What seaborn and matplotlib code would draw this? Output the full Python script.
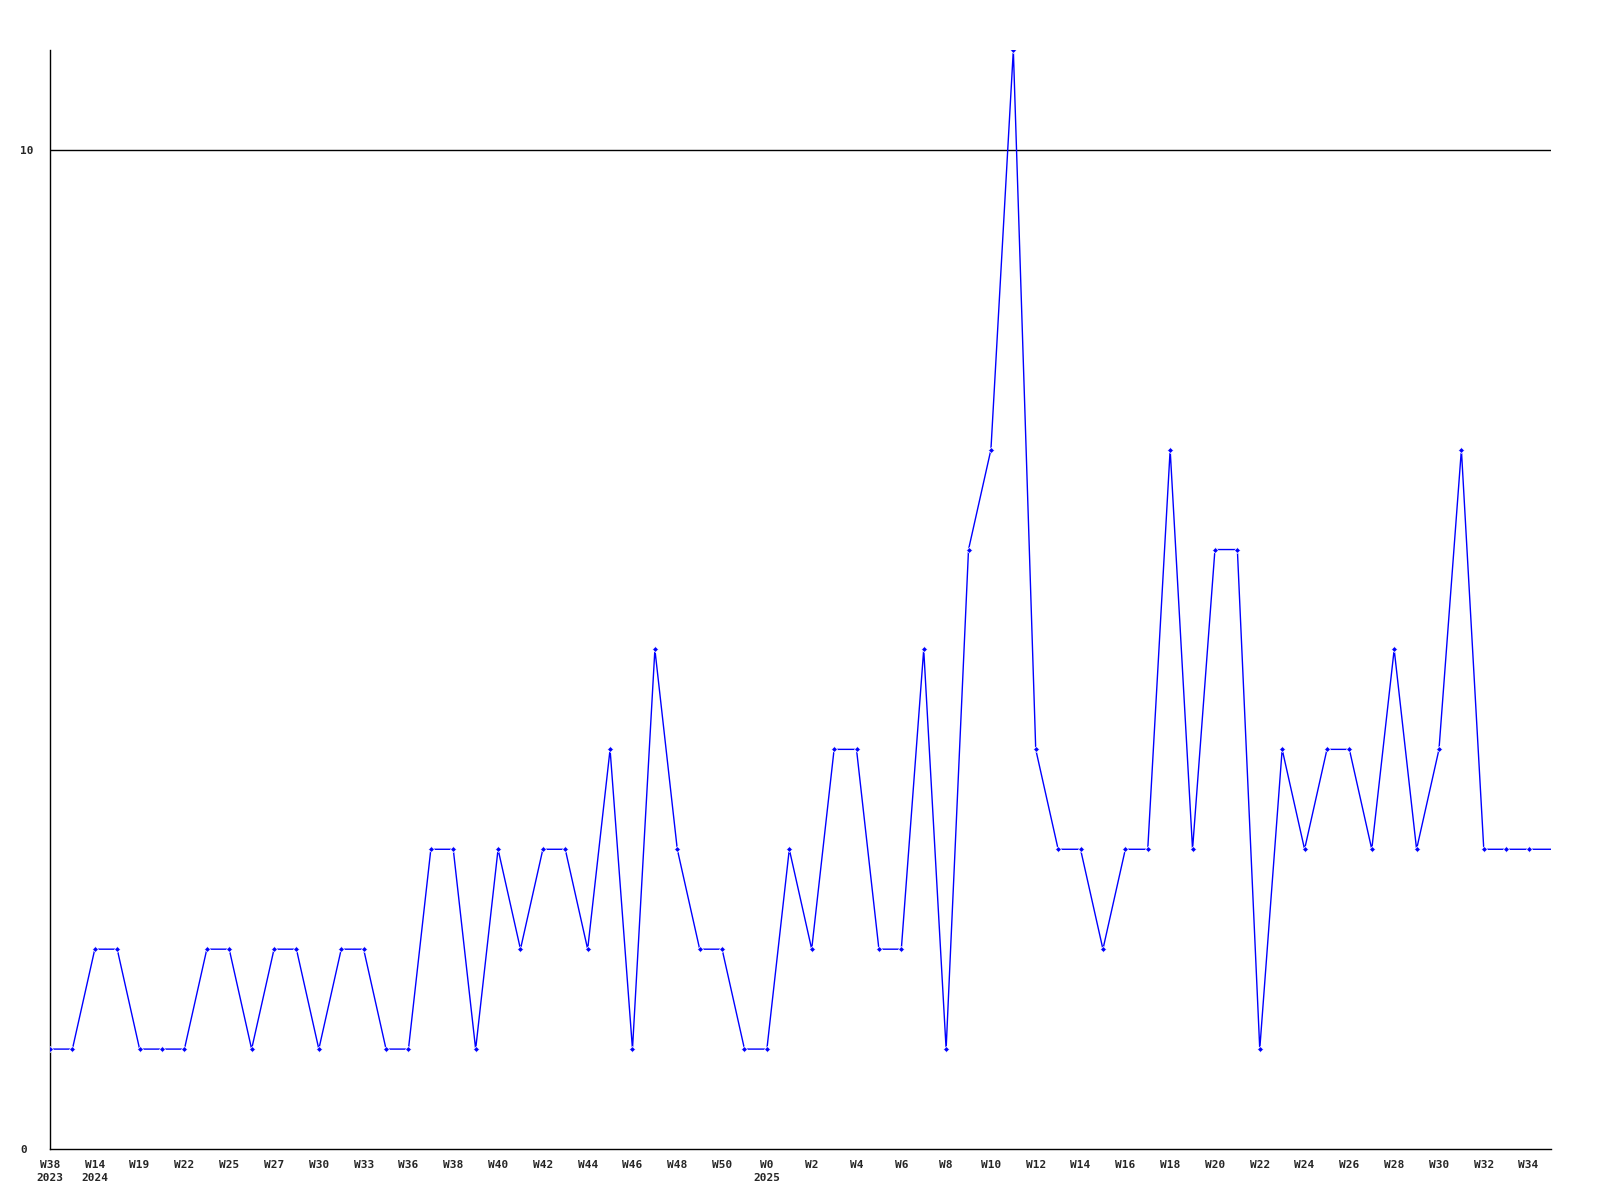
import matplotlib
matplotlib.use("Agg")
import matplotlib.pyplot as plt
import seaborn as sns
import numpy as np

values = [1, 1, 2, 2, 1, 1, 1, 2, 2, 1, 2, 2, 1, 2, 2, 1, 1, 3, 3, 1,
          3, 2, 3, 3, 2, 4, 1, 5, 3, 2, 2, 1, 1, 3, 2, 4, 4, 2, 2, 5,
          1, 6, 7, 11, 4, 3, 3, 2, 3, 3, 7, 3, 6, 6, 1, 4, 3, 4, 4, 3,
          5, 3, 4, 7, 3, 3, 3, 3]
tick_labels = ["W38\n2023", "W14\n2024", "W19", "W22", "W25", "W27", "W30", "W33",
               "W36", "W38", "W40", "W42", "W44", "W46", "W48", "W50", "W0\n2025",
               "W2", "W4", "W6", "W8", "W10", "W12", "W14", "W16", "W18", "W20",
               "W22", "W24", "W26", "W28", "W30", "W32", "W34"]

sns.set_style("white")
plt.rcParams['font.family'] = ['DejaVu Sans Mono', 'DejaVu Sans']

fig = plt.figure(figsize=(16, 12), dpi=100)
ax = fig.add_axes([50/1600, 1 - 1149/1200, 1501/1600, 1099/1200])

x = np.arange(len(values))
ax.axhline(10, color='black', linewidth=1, zorder=1)
sns.lineplot(x=x, y=values, ax=ax, color=(0, 0, 1), linewidth=1,
             marker='D', markersize=3, markeredgewidth=0.5,
             markevery=list(range(len(values) - 1)), zorder=3)

ax.set_xlim(0, len(values) - 1)
ax.set_ylim(0, 11)
ax.set_xticks(x[::2][:len(tick_labels)])
ax.set_xticklabels(tick_labels, fontsize=8, fontweight='bold', va='top', linespacing=1.3)
ax.set_yticks([0, 10])
ax.set_yticklabels(["0", "10"], fontsize=8, fontweight='bold', ha='left')
ax.tick_params(axis='both', length=0)
ax.tick_params(axis='x', pad=8)
ax.tick_params(axis='y', pad=21.6)
for s in ['top', 'right']:
    ax.spines[s].set_visible(False)
for s in ['left', 'bottom']:
    ax.spines[s].set_color('black')
    ax.spines[s].set_linewidth(1)
ax.grid(False)

fig.savefig("out.png", dpi=100, facecolor='white')
